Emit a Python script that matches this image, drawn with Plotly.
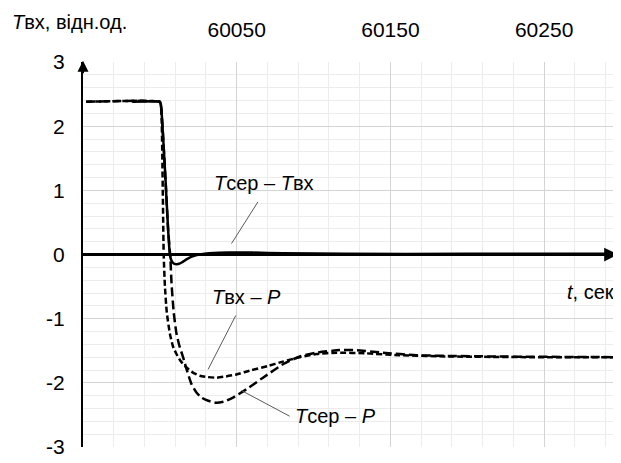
import plotly.graph_objects as go

# ---- data ----
t_solid = [59982, 60000.0, 60000.6, 60001.2, 60003.7, 60005.4, 60006.5, 60007.3, 60008.2,
           60009.5, 60011, 60012.5, 60014.5, 60017, 60020, 60024, 60029, 60035, 60045,
           60060, 60080, 60120, 60200, 60300]
y_solid = [2.38, 2.38, 2.34, 2.2, 1.16, 0.375, 0.0, -0.08, -0.12,
           -0.145, -0.15, -0.145, -0.12, -0.08, -0.04, -0.01, 0.01, 0.025, 0.03,
           0.03, 0.02, 0.01, 0.01, 0.01]

t_vx_p = [59952, 60000.0, 60000.6, 60001.2, 60002.5, 60003.3, 60004.5, 60006.5, 60008.5,
          60010.8, 60013.5, 60017.3, 60021.5, 60026.0, 60031, 60036.8, 60043, 60049.8,
          60058.4, 60070, 60080, 60091, 60102, 60115, 60134, 60156, 60190, 60240, 60300]
y_vx_p = [2.38, 2.38, 2.34, 2.1, 0.0, -0.5, -0.9, -1.23, -1.43,
          -1.55, -1.66, -1.76, -1.84, -1.89, -1.91, -1.92, -1.9, -1.87,
          -1.81, -1.74, -1.67, -1.60, -1.55, -1.53, -1.54, -1.57, -1.59, -1.60, -1.60]

t_ser_p = [59952, 60000.0, 60000.6, 60001.2, 60003.7, 60005.4, 60006.8, 60007.6, 60009,
           60010.8, 60012.8, 60015.1, 60017.8, 60020.6, 60023.8, 60027.1, 60031.5, 60036.8,
           60042, 60047.6, 60056.3, 60067.1, 60080.1, 60091, 60102, 60117, 60128, 60145,
           60167, 60220, 60300]
y_ser_p = [2.38, 2.38, 2.34, 2.2, 1.16, 0.375, -0.04, -0.45, -0.9,
           -1.23, -1.43, -1.60, -1.82, -2.02, -2.15, -2.23, -2.28, -2.31,
           -2.29, -2.23, -2.10, -1.92, -1.71, -1.59, -1.53, -1.49, -1.49, -1.53,
           -1.57, -1.59, -1.60]

x_tickvals = [60050, 60150, 60250]
x_ticktext = ["60050", "60150", "60250"]
y_tickvals = [-3, -2, -1, 0, 1, 2, 3]
y_ticktext = ["-3", "-2", "-1", "0", "1", "2", "3"]

FONT = "Liberation Sans"

fig = go.Figure()
fig.add_trace(go.Scatter(x=t_vx_p, y=y_vx_p, mode="lines",
                         line=dict(color="black", width=2.5, dash="6px,3px",
                                   shape="spline", smoothing=0.5),
                         showlegend=False))
fig.add_trace(go.Scatter(x=t_ser_p, y=y_ser_p, mode="lines",
                         line=dict(color="black", width=2.5, dash="9px,4px",
                                   shape="spline", smoothing=0.5),
                         showlegend=False))
fig.add_trace(go.Scatter(x=t_solid, y=y_solid, mode="lines",
                         line=dict(color="black", width=2.5,
                                   shape="spline", smoothing=0.5),
                         showlegend=False))

# the page body has an 8px margin: the figure is 8px smaller and offset by it
fig.update_layout(
    width=613, height=455,
    margin=dict(l=75, r=0, t=54, b=16, pad=0),
    plot_bgcolor="white", paper_bgcolor="white",
    font=dict(family=FONT, size=20, color="black"),
    xaxis=dict(range=[59950, 60300], side="top",
               tickvals=x_tickvals, ticktext=x_ticktext,
               ticks="", ticklabelstandoff=20,
               showgrid=True, gridcolor="#d4d4d4", gridwidth=1,
               minor=dict(tick0=59950, dtick=20, showgrid=True,
                          gridcolor="#ececec", gridwidth=1),
               zeroline=False, showline=False,
               tickfont=dict(family=FONT, size=21)),
    yaxis=dict(range=[-3, 3],
               tickvals=y_tickvals, ticktext=y_ticktext,
               ticks="", ticklabelstandoff=12,
               showgrid=True, gridcolor="#d4d4d4", gridwidth=1,
               minor=dict(tick0=0, dtick=0.2, showgrid=True,
                          gridcolor="#ececec", gridwidth=1),
               zeroline=True, zerolinecolor="black", zerolinewidth=2.5,
               showline=True, linecolor="black", linewidth=2,
               tickfont=dict(family=FONT, size=21)),
)

fig.add_annotation(x=60298, y=0, ax=60285, ay=0, xref="x", yref="y",
                   axref="x", ayref="y", text="", showarrow=True,
                   arrowhead=2, arrowsize=1.1, arrowwidth=2.5, arrowcolor="black")
fig.add_annotation(x=59950, y=3.02, ax=59950, ay=2.8, xref="x", yref="y",
                   axref="x", ayref="y", text="", showarrow=True,
                   arrowhead=2, arrowsize=1.1, arrowwidth=2, arrowcolor="black")

def label(txt, x, y, anchor="left"):
    fig.add_annotation(x=x, y=y, xref="x", yref="y", text=txt, showarrow=False,
                       xanchor=anchor, yanchor="middle",
                       font=dict(family=FONT, size=20, color="black"))

label("<i>T</i>сер – <i>T</i>вх", 60033.6, 1.12)
label("<i>T</i>вх – <i>P</i>", 60032.5, -0.66)
label("<i>T</i>сер – <i>P</i>", 60086.4, -2.52)
label("<i>t</i>, сек", 60297, -0.58, "right")

leaders = [((60063.8, 0.82), (60046.6, 0.17)),
           ((60049.4, -0.95), (60031.4, -1.79)),
           ((60053.1, -2.12), (60084.4, -2.52))]
for (x0, y0), (x1, y1) in leaders:
    fig.add_shape(type="line", x0=x0, y0=y0, x1=x1, y1=y1, xref="x", yref="y",
                  line=dict(color="#5a5a5a", width=1))

fig.add_annotation(x=-0.136, y=1.105, xref="paper", yref="paper",
                   text="<i>T</i>вх, відн.од.", showarrow=False,
                   xanchor="left", yanchor="middle",
                   font=dict(family=FONT, size=20, color="black"))

fig.write_html("out.html")
